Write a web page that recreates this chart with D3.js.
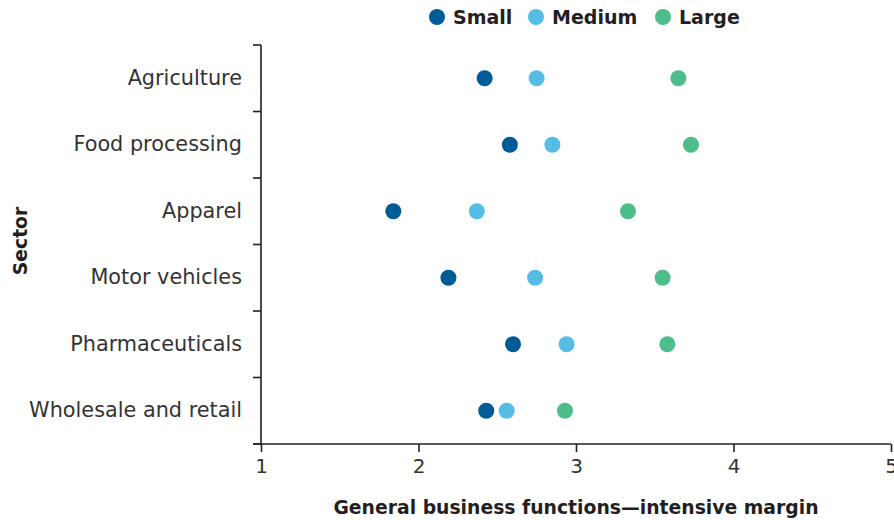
<!DOCTYPE html>
<html><head><meta charset="utf-8">
<script src="https://cdn.jsdelivr.net/npm/d3@7"></script>
<style>body{margin:0;background:#fff}svg{display:block}text{font-family:"DejaVu Sans",sans-serif}</style>
</head><body><svg id="c" width="894" height="520"></svg>
<script>
const sectors = ["Agriculture","Food processing","Apparel","Motor vehicles","Pharmaceuticals","Wholesale and retail"];
const seriesNames = ["Small","Medium","Large"];
const small  = [2.42, 2.58, 1.84, 2.19, 2.60, 2.43];
const medium = [2.75, 2.85, 2.37, 2.74, 2.94, 2.56];
const large  = [3.65, 3.73, 3.33, 3.55, 3.58, 2.93];
const xTicks = [1,2,3,4,5];
const colors = ["#005b97","#55bde5","#4dbd8c"];
const seriesVals = [small, medium, large];

const svg = d3.select("#c");
const x = d3.scaleLinear().domain([1,5]).range([261,891]);
const y = d3.scaleBand().domain(sectors).range([45,444]);
const ink = "#231f20";
const font = "'DejaVu Sans',sans-serif";

const yAx = svg.append("g").attr("transform","translate(261,0)")
  .call(d3.axisLeft(y).tickSize(0).tickPadding(19));
yAx.select(".domain").remove();
yAx.selectAll("text").attr("font-size",20.8).attr("fill","#333").attr("font-family",font);
const bounds = sectors.map(s=>y(s)).concat([y.range()[1]]);
svg.append("g").selectAll("line").data(bounds).join("line")
  .attr("x1",253).attr("x2",261).attr("y1",d=>d).attr("y2",d=>d)
  .attr("stroke",ink).attr("stroke-width",1.6);
svg.append("line").attr("x1",261).attr("x2",261).attr("y1",45).attr("y2",444).attr("stroke",ink).attr("stroke-width",1.6);

const xAx = svg.append("g").attr("transform","translate(0,444)")
  .call(d3.axisBottom(x).tickValues(xTicks).tickFormat(d3.format("d")).tickSize(8).tickPadding(7));
xAx.select(".domain").remove();
xAx.selectAll("line").attr("stroke",ink).attr("stroke-width",1.6);
xAx.selectAll("text").attr("font-size",20).attr("fill","#333").attr("font-family",font);
svg.append("line").attr("x1",253).attr("x2",891).attr("y1",444).attr("y2",444).attr("stroke",ink).attr("stroke-width",1.6);

seriesVals.forEach((vals,i)=>{
  svg.append("g").selectAll("circle").data(vals).join("circle")
    .attr("cx",d=>x(d)).attr("cy",(d,j)=>y(sectors[j])+y.bandwidth()/2)
    .attr("r",8).attr("fill",colors[i]);
});

svg.append("text").attr("x",576).attr("y",514).attr("text-anchor","middle")
  .attr("font-size",18.8).attr("font-weight","bold").attr("fill",ink)
  .text("General business functions\u2014intensive margin");
svg.append("text").attr("transform","translate(27,241) rotate(-90)").attr("text-anchor","middle")
  .attr("font-size",18.8).attr("font-weight","bold").attr("fill",ink).text("Sector");

const legX = [437,536,663];
const leg = svg.append("g").selectAll("g").data(seriesNames).join("g")
  .attr("transform",(d,i)=>`translate(${legX[i]},17)`);
leg.append("circle").attr("r",8).attr("fill",(d,i)=>colors[i]);
leg.append("text").attr("x",16).attr("y",7).attr("font-size",19).attr("font-weight","bold").attr("fill",ink).text(d=>d);
</script></body></html>
